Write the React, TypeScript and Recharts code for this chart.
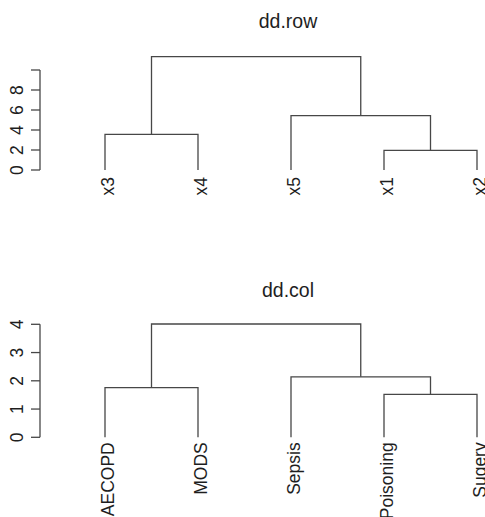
import { ComposedChart, Line, XAxis, YAxis, ReferenceLine } from 'recharts'

// leaf order as drawn, merges in R hclust style (negative = leaf, positive = earlier merge)
const rowLabels = ['x3', 'x4', 'x5', 'x1', 'x2']
const rowPairs = [[-4, -5], [-1, -2], [-3, 1], [2, 3]]
const rowHeights = [1.97, 3.57, 5.43, 11.33]
const rowTicks = [0, 2, 4, 6, 8, 10]
const rowTickLabels = ['0', '2', '4', '6', '8', '']

const colLabels = ['AECOPD', 'MODS', 'Sepsis', 'Poisoning', 'Sugery']
const colPairs = [[-4, -5], [-1, -2], [-3, 1], [2, 3]]
const colHeights = [1.52, 1.76, 2.14, 4.01]
const colTicks = [0, 1, 2, 3, 4]
const colTickLabels = ['0', '1', '2', '3', '4']

const FONT = '"Liberation Sans", Arial, Helvetica, sans-serif'
const INK = '#1e1e1e'
const LINE = '#474747'
const W = 485
const X_MIN = 1 - 65 / 93
const X_MAX = 5 + 8 / 93

type Pt = { x: number; y: number }

function buildLinks(pairs: number[][], heights: number[]) {
  const nodes: Pt[] = []
  const pos = (id: number): Pt => (id < 0 ? { x: -id, y: 0 } : nodes[id - 1])
  const links: Pt[][] = []
  pairs.forEach(([a, b], i) => {
    const l = pos(a)
    const r = pos(b)
    const h = heights[i]
    links.push([
      { x: l.x, y: l.y },
      { x: l.x, y: h },
      { x: r.x, y: h },
      { x: r.x, y: r.y },
    ])
    nodes.push({ x: (l.x + r.x) / 2, y: h })
  })
  return links
}

function LeafTick({ x, payload, labels, baseY }: any) {
  const label = labels[payload.value - 1]
  return (
    <text
      x={x}
      y={baseY + 9}
      transform={`rotate(-90 ${x} ${baseY})`}
      textAnchor="end"
      fontSize={17.5}
      fontFamily={FONT}
      fill={INK}
    >
      {label}
    </text>
  )
}

function ValueTick({ y, payload, ticks, tickLabels }: any) {
  const label = tickLabels[ticks.indexOf(payload.value)]
  return (
    <text
      x={23}
      y={y}
      transform={`rotate(-90 23 ${y})`}
      textAnchor="middle"
      fontSize={17.5}
      fontFamily={FONT}
      fill={INK}
    >
      {label}
    </text>
  )
}

interface PanelProps {
  labels: string[]
  pairs: number[][]
  heights: number[]
  ticks: number[]
  tickLabels: string[]
  yMax: number
  top: number
  height: number
  marginTop: number
  axisHeight: number
  gap: number
}

function Dendrogram({ labels, pairs, heights, ticks, tickLabels, yMax, top, height, marginTop, axisHeight, gap }: PanelProps) {
  const links = buildLinks(pairs, heights)
  const plotBottom = height - axisHeight
  return (
    <div style={{ position: 'absolute', left: 0, top, width: W, height }}>
      <ComposedChart width={W} height={height} margin={{ top: marginTop, right: 0, bottom: 0, left: 0 }}>
        <XAxis
          type="number"
          dataKey="x"
          domain={[X_MIN, X_MAX]}
          ticks={labels.map((_, i) => i + 1)}
          interval={0}
          height={axisHeight}
          axisLine={false}
          tickLine={false}
          tick={<LeafTick labels={labels} baseY={plotBottom + gap} />}
        />
        <YAxis
          type="number"
          domain={[0, yMax]}
          ticks={ticks}
          interval={0}
          width={40}
          axisLine={false}
          tickSize={9}
          tickLine={{ stroke: LINE, strokeWidth: 1.3 }}
          tick={<ValueTick ticks={ticks} tickLabels={tickLabels} />}
        />
        <ReferenceLine
          segment={[{ x: X_MIN, y: ticks[0] }, { x: X_MIN, y: ticks[ticks.length - 1] }]}
          stroke={LINE}
          strokeWidth={1.3}
          ifOverflow="visible"
        />
        {links.map((link, i) => (
          <Line
            key={i}
            data={link}
            dataKey="y"
            type="linear"
            stroke={LINE}
            strokeWidth={1.3}
            dot={false}
            activeDot={false}
            isAnimationActive={false}
          />
        ))}
      </ComposedChart>
    </div>
  )
}

export default function App() {
  return (
    <div style={{ position: 'absolute', left: 0, top: 0, width: W, height: 517, overflow: 'hidden', background: '#fff' }}>
      <Dendrogram
        labels={rowLabels}
        pairs={rowPairs}
        heights={rowHeights}
        ticks={rowTicks}
        tickLabels={rowTickLabels}
        yMax={13}
        top={0}
        height={260}
        marginTop={40}
        axisHeight={90}
        gap={7}
      />
      <Dendrogram
        labels={colLabels}
        pairs={colPairs}
        heights={colHeights}
        ticks={colTicks}
        tickLabels={colTickLabels}
        yMax={5}
        top={260}
        height={257}
        marginTop={36.05}
        axisHeight={79.7}
        gap={5}
      />
      <svg width={W} height={517} style={{ position: 'absolute', left: 0, top: 0, pointerEvents: 'none' }}>
        <text x={288} y={28.3} textAnchor="middle" fontSize={19.5} fontFamily={FONT} fill={INK}>dd.row</text>
        <text x={288} y={296.7} textAnchor="middle" fontSize={19.5} fontFamily={FONT} fill={INK}>dd.col</text>
      </svg>
    </div>
  )
}
